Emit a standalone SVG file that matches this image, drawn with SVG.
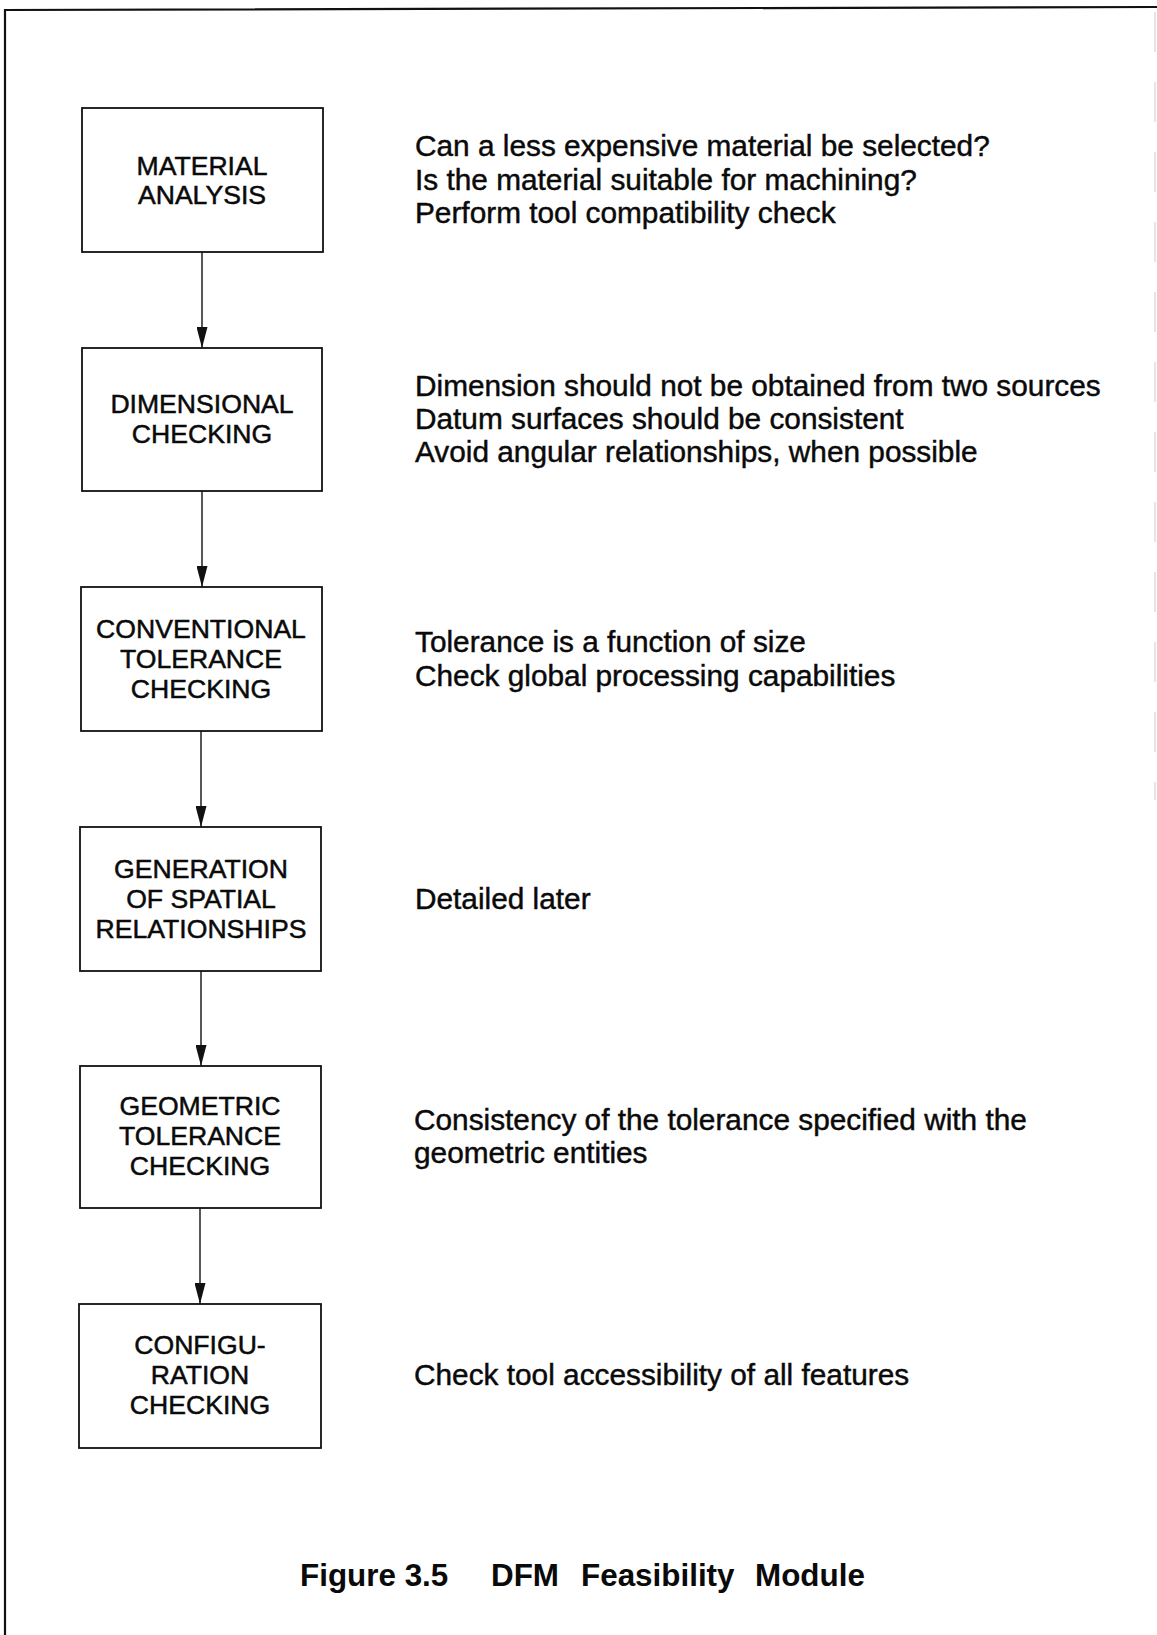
<svg xmlns="http://www.w3.org/2000/svg" width="1157" height="1635" viewBox="0 0 1157 1635">
  <style>
    .frame { fill: none; stroke: #111; stroke-width: 2.2; }
    .box { fill: #fff; stroke: #111; stroke-width: 1.8; }
    .lbl { font-family: "Liberation Sans", Arial, sans-serif; font-size: 26.6px; fill: #0a0a0a; stroke: #0a0a0a; stroke-width: 0.5; text-anchor: middle; }
    .note { font-family: "Liberation Sans", Arial, sans-serif; font-size: 29.8px; fill: #0a0a0a; stroke: #0a0a0a; stroke-width: 0.45; }
    .cap { font-family: "Liberation Sans", Arial, sans-serif; font-size: 31.4px; font-weight: bold; fill: #0a0a0a; }
    .link { fill: none; stroke: #111; stroke-width: 1.4; marker-end: url(#head); }
  </style>
  <defs>
    <marker id="head" markerUnits="userSpaceOnUse" markerWidth="21" markerHeight="11" refX="21" refY="5.5" orient="auto" viewBox="0 0 21 11">
      <path d="M0,0 L21,5.5 L0,11 Z" fill="#111"/>
    </marker>
  </defs>

  <rect width="1157" height="1635" fill="#fff"/>

  <!-- page frame -->
  <g id="frame">
    <path class="frame" d="M5,1635 L5,10 L1157,7"/>
    <path d="M1155,12 L1155,800" stroke="#d4d4d4" stroke-width="1.2" fill="none" stroke-dasharray="40,30"/>
  </g>

  <!-- connectors -->
  <g id="connectors">
    <line class="link" x1="202" y1="252" x2="202" y2="348"/>
    <line class="link" x1="202" y1="491" x2="202" y2="587"/>
    <line class="link" x1="201" y1="731" x2="201" y2="827"/>
    <line class="link" x1="201" y1="971" x2="201" y2="1066"/>
    <line class="link" x1="200" y1="1208" x2="200" y2="1304"/>
  </g>

  <!-- process steps -->
  <g id="material-analysis">
    <rect class="box" x="82" y="108" width="241" height="144"/>
    <text class="lbl" x="202" y="175">MATERIAL</text>
    <text class="lbl" x="202" y="204">ANALYSIS</text>
  </g>
  <g id="dimensional-checking">
    <rect class="box" x="82" y="348" width="240" height="143"/>
    <text class="lbl" x="202" y="413">DIMENSIONAL</text>
    <text class="lbl" x="202" y="443">CHECKING</text>
  </g>
  <g id="conventional-tolerance-checking">
    <rect class="box" x="81" y="587" width="241" height="144"/>
    <text class="lbl" x="201" y="638">CONVENTIONAL</text>
    <text class="lbl" x="201" y="668">TOLERANCE</text>
    <text class="lbl" x="201" y="698">CHECKING</text>
  </g>
  <g id="spatial-relationships">
    <rect class="box" x="80" y="827" width="241" height="144"/>
    <text class="lbl" x="201" y="878">GENERATION</text>
    <text class="lbl" x="201" y="908">OF SPATIAL</text>
    <text class="lbl" x="201" y="938">RELATIONSHIPS</text>
  </g>
  <g id="geometric-tolerance-checking">
    <rect class="box" x="80" y="1066" width="241" height="142"/>
    <text class="lbl" x="200" y="1115">GEOMETRIC</text>
    <text class="lbl" x="200" y="1145">TOLERANCE</text>
    <text class="lbl" x="200" y="1175">CHECKING</text>
  </g>
  <g id="configuration-checking">
    <rect class="box" x="79" y="1304" width="242" height="144"/>
    <text class="lbl" x="200" y="1354">CONFIGU-</text>
    <text class="lbl" x="200" y="1384">RATION</text>
    <text class="lbl" x="200" y="1414">CHECKING</text>
  </g>

  <!-- notes beside each step -->
  <g id="notes">
    <text class="note" x="415" y="156">Can a less expensive material be selected?</text>
    <text class="note" x="415" y="190">Is the material suitable for machining?</text>
    <text class="note" x="415" y="223">Perform tool compatibility check</text>

    <text class="note" x="415" y="396">Dimension should not be obtained from two sources</text>
    <text class="note" x="415" y="429">Datum surfaces should be consistent</text>
    <text class="note" x="415" y="462">Avoid angular relationships, when possible</text>

    <text class="note" x="415" y="652">Tolerance is a function of size</text>
    <text class="note" x="415" y="686">Check global processing capabilities</text>

    <text class="note" x="415" y="909">Detailed later</text>

    <text class="note" x="414" y="1130">Consistency of the tolerance specified with the</text>
    <text class="note" x="414" y="1163">geometric entities</text>

    <text class="note" x="414" y="1385">Check tool accessibility of all features</text>
  </g>

  <!-- caption -->
  <g id="caption">
    <text class="cap" y="1586"><tspan x="300">Figure 3.5</tspan><tspan x="491">DFM</tspan><tspan x="581">Feasibility</tspan><tspan x="755">Module</tspan></text>
  </g>
</svg>
